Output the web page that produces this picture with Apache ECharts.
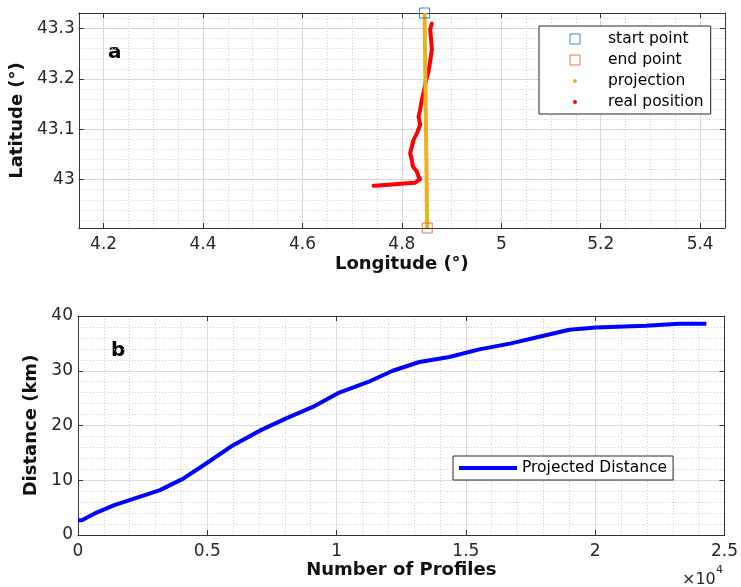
<!DOCTYPE html>
<html><head><meta charset="utf-8">
<script src="https://cdn.jsdelivr.net/npm/echarts@6/dist/echarts.min.js"></script>
<style>html,body{margin:0;padding:0;background:#fff}#c{width:741px;height:587px}</style>
</head><body><div id="c"></div>
<script>
// ---- Panel a: track ----
const lonTicks = [4.2, 4.4, 4.6, 4.8, 5, 5.2, 5.4];
const latTicks = [43, 43.1, 43.2, 43.3];
const lonRange = [4.15, 5.45];
const latRange = [42.904, 43.331];
const startPoint = [4.8456, 43.331];
const endPoint = [4.8510, 42.904];
const realLon = [4.8603, 4.8569, 4.8589, 4.8603, 4.8569, 4.8537, 4.8488, 4.8448, 4.8402, 4.8368, 4.8336, 4.8368, 4.8302, 4.8235, 4.8201, 4.8167, 4.8201, 4.8221, 4.8302, 4.8336, 4.8368, 4.8267, 4.8101, 4.7865, 4.7598, 4.7431];
const realLat = [43.310, 43.298, 43.278, 43.258, 43.235, 43.215, 43.198, 43.178, 43.159, 43.139, 43.125, 43.109, 43.092, 43.079, 43.066, 43.052, 43.039, 43.026, 43.016, 43.006, 43.001, 42.994, 42.993, 42.991, 42.989, 42.988];
// ---- Panel b: distance ----
const profiles = [0, 150, 720, 1430, 2200, 3170, 4070, 4970, 6000, 7090, 8050, 9080, 10050, 11200, 12170, 13200, 14360, 15520, 16750, 17840, 19000, 20030, 21960, 23240, 24300];
const distanceKm = [2.7, 2.7, 4.1, 5.5, 6.7, 8.2, 10.3, 13.1, 16.4, 19.2, 21.3, 23.4, 25.9, 27.9, 30.0, 31.6, 32.5, 33.9, 35.0, 36.2, 37.5, 37.9, 38.2, 38.6, 38.6];
const profileTicks = [0, 0.5, 1, 1.5, 2, 2.5];   // ×10^4
const distanceTicks = [0, 10, 20, 30, 40];

function steps(a, b, s) { const r = []; for (let v = a; v <= b + 1e-9; v += s) r.push(+v.toFixed(4)); return r; }
const lonMinor = steps(4.15, 5.45, 0.05);
const latMinor = steps(42.92, 43.32, 0.02);

const FONT = 'DejaVu Sans';
const AX = '#333333';
const LBL = '#262626';
const MAJ = '#dcdcdc';
const MIN = '#cfcfcf';

function mainAxis(o) {
  return Object.assign({
    type: 'value', axisLine: { show: true, onZero: false, lineStyle: { color: AX, width: 1 } },
    axisTick: { show: true, inside: true, length: 5, lineStyle: { color: AX } },
    axisLabel: { color: LBL, fontFamily: FONT, fontSize: 17 },
    splitLine: { show: true, lineStyle: { color: MAJ, width: 1 } },
    nameLocation: 'middle', nameTextStyle: { fontFamily: FONT, fontSize: 18, fontWeight: 'bold', color: '#111' }
  }, o);
}
function mirrorAxis(o) {
  return Object.assign({
    type: 'value', axisLine: { show: true, onZero: false, lineStyle: { color: AX, width: 1 } },
    axisTick: { show: true, inside: true, length: 5, lineStyle: { color: AX } },
    axisLabel: { show: false }, splitLine: { show: false }
  }, o);
}
function minorAxis(o) {
  return Object.assign({
    type: 'value', axisLine: { show: false, onZero: false }, axisLabel: { show: false },
    splitLine: { show: true, lineStyle: { color: MIN, width: 1, type: [1, 2] } }
  }, o);
}

const chart = echarts.init(document.getElementById('c'), null, { renderer: 'canvas' });
chart.setOption({
  animation: false,
  backgroundColor: '#fff',
  grid: [
    { left: 78, top: 13, width: 647, height: 215 },
    { left: 78, top: 316, width: 647, height: 219 }
  ],
  xAxis: [
    mainAxis({ gridIndex: 0, position: 'bottom', min: lonRange[0], max: lonRange[1],
      axisTick: { show: true, inside: true, length: 5, lineStyle: { color: AX }, customValues: lonTicks },
      axisLabel: { color: LBL, fontFamily: FONT, fontSize: 17, margin: 8, customValues: lonTicks },
      name: 'Longitude (°)', nameGap: 27 }),
    mirrorAxis({ gridIndex: 0, position: 'top', min: lonRange[0], max: lonRange[1],
      axisTick: { show: true, inside: true, length: 5, lineStyle: { color: AX }, customValues: lonTicks } }),
    minorAxis({ gridIndex: 0, position: 'bottom', min: lonRange[0], max: lonRange[1],
      axisTick: { show: false, customValues: lonMinor } }),
    mainAxis({ gridIndex: 1, position: 'bottom', min: 0, max: 25000, interval: 5000,
      axisLabel: { color: LBL, fontFamily: FONT, fontSize: 17, margin: 8, formatter: v => String(profileTicks[Math.round(v / 5000)]) },
      minorTick: { show: false, splitNumber: 5 },
      minorSplitLine: { show: true, lineStyle: { color: MIN, width: 1, type: [1, 2] } },
      name: 'Number of Profiles', nameGap: 26 }),
    mirrorAxis({ gridIndex: 1, position: 'top', min: 0, max: 25000, interval: 5000 })
  ],
  yAxis: [
    mainAxis({ gridIndex: 0, position: 'left', min: latRange[0], max: latRange[1],
      axisTick: { show: true, inside: true, length: 5, lineStyle: { color: AX }, customValues: latTicks },
      axisLabel: { color: LBL, fontFamily: FONT, fontSize: 17, margin: 4, customValues: latTicks },
      name: 'Latitude (°)', nameGap: 49 }),
    mirrorAxis({ gridIndex: 0, position: 'right', min: latRange[0], max: latRange[1],
      axisTick: { show: true, inside: true, length: 5, lineStyle: { color: AX }, customValues: latTicks } }),
    minorAxis({ gridIndex: 0, position: 'left', min: latRange[0], max: latRange[1],
      axisTick: { show: false, customValues: latMinor } }),
    mainAxis({ gridIndex: 1, position: 'left', min: 0, max: 40, interval: 10,
      axisLabel: { color: LBL, fontFamily: FONT, fontSize: 17, margin: 5, formatter: v => String(distanceTicks[Math.round(v / 10)]) },
      minorTick: { show: false, splitNumber: 5 },
      minorSplitLine: { show: true, lineStyle: { color: MIN, width: 1, type: [1, 2] } },
      name: 'Distance (km)', nameGap: 33 }),
    mirrorAxis({ gridIndex: 1, position: 'right', min: 0, max: 40, interval: 10 })
  ],
  legend: [
    { show: true, orient: 'vertical', left: 539, top: 26, padding: [5, 7, 4, 28], itemGap: 5,
      itemWidth: 56, itemHeight: 10, selectedMode: false,
      borderColor: '#262626', borderWidth: 1, backgroundColor: '#fff',
      textStyle: { fontFamily: FONT, fontSize: 15.5, color: '#000', lineHeight: 16 },
      data: [
        { name: 'start point', icon: 'path://M0,0H10V10H0Z', itemStyle: { color: '#fff', borderColor: '#0072BD', borderWidth: 1 } },
        { name: 'end point', icon: 'path://M0,0H10V10H0Z', itemStyle: { color: '#fff', borderColor: '#D95319', borderWidth: 1 } },
        { name: 'projection', icon: 'circle', itemStyle: { color: '#EDB120', borderColor: '#fff', borderWidth: 6 } },
        { name: 'real position', icon: 'circle', itemStyle: { color: '#FF0000', borderColor: '#fff', borderWidth: 6 } }
      ] },
    { show: true, orient: 'horizontal', left: 453, top: 456, padding: [4, 6, 4, 6],
      itemWidth: 58, itemHeight: 4, selectedMode: false,
      borderColor: '#262626', borderWidth: 1, backgroundColor: '#fff',
      textStyle: { fontFamily: FONT, fontSize: 15.5, color: '#000', lineHeight: 16 },
      data: [{ name: 'Projected Distance', icon: 'rect', itemStyle: { color: '#0000FF' } }] }
  ],
  series: [
    { name: 'real position', type: 'line', xAxisIndex: 0, yAxisIndex: 0, showSymbol: false, symbol: 'none',
      data: realLon.map((v, i) => [v, realLat[i]]), z: 3,
      lineStyle: { color: '#FF0000', width: 4, cap: 'round', join: 'round' }, itemStyle: { color: '#FF0000' } },
    { name: 'projection', type: 'line', xAxisIndex: 0, yAxisIndex: 0, showSymbol: false, symbol: 'none',
      data: [startPoint, endPoint], z: 4, clip: false,
      lineStyle: { color: '#EDB120', width: 4 }, itemStyle: { color: '#EDB120' } },
    { name: 'start point', type: 'scatter', xAxisIndex: 0, yAxisIndex: 0, symbol: 'rect', symbolSize: 10, clip: false, z: 5,
      data: [startPoint], itemStyle: { color: 'rgba(255,255,255,0)', borderColor: '#0072BD', borderWidth: 1 } },
    { name: 'end point', type: 'scatter', xAxisIndex: 0, yAxisIndex: 0, symbol: 'rect', symbolSize: 10, clip: false, z: 5,
      data: [endPoint], itemStyle: { color: 'rgba(255,255,255,0)', borderColor: '#D95319', borderWidth: 1 } },
    { name: 'Projected Distance', type: 'line', xAxisIndex: 3, yAxisIndex: 3, showSymbol: false, symbol: 'none',
      data: profiles.map((v, i) => [v, distanceKm[i]]),
      lineStyle: { color: '#0000FF', width: 4, join: 'round' }, itemStyle: { color: '#0000FF' } }
  ],
  graphic: [
    { type: 'text', left: 108, top: 43, style: { text: 'a', font: 'bold 20px "DejaVu Sans"', fill: '#000' } },
    { type: 'text', left: 111, top: 341, style: { text: 'b', font: 'bold 20px "DejaVu Sans"', fill: '#000' } },
    { type: 'text', left: 682, top: 572, style: { text: '×10', font: '16px "DejaVu Sans"', fill: LBL } },
    { type: 'text', left: 716, top: 565, style: { text: '4', font: '11px "DejaVu Sans"', fill: LBL } }
  ]
});
</script></body></html>
